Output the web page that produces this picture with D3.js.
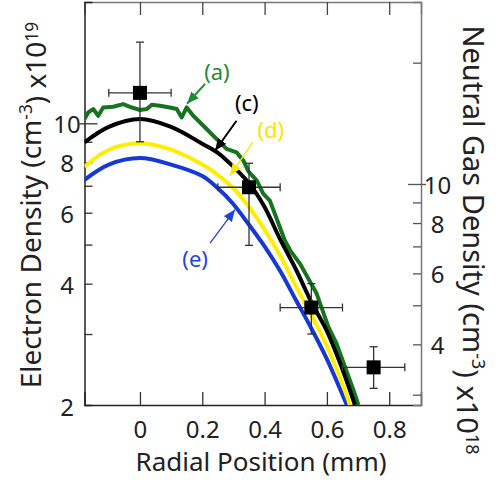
<!DOCTYPE html>
<html>
<head>
<meta charset="utf-8">
<script src="https://cdn.jsdelivr.net/npm/d3@7"></script>
<style>
  body { margin: 0; background: #fff; }
  text { font-family: "Noto Sans", "Open Sans", sans-serif; }
</style>
</head>
<body>
<div id="chart"></div>
<script>
// radial position (mm) samples for the smooth model curves
const curveC_x = [-0.178, -0.1, 0, 0.1, 0.2, 0.25, 0.3, 0.35, 0.4, 0.45, 0.5, 0.55, 0.6, 0.65, 0.69];
const curveC_y = [8.97, 9.8, 10.25, 9.8, 8.9, 8.45, 7.8, 7.1, 6.2, 5.15, 4.35, 3.6, 3.05, 2.45, 2.0];

const curveD_x = [-0.178, -0.1, 0, 0.1, 0.2, 0.25, 0.3, 0.35, 0.4, 0.45, 0.5, 0.55, 0.6, 0.65, 0.674];
const curveD_y = [7.8, 8.6, 8.92, 8.6, 7.9, 7.45, 6.9, 6.2, 5.45, 4.7, 3.95, 3.35, 2.8, 2.25, 2.0];

const curveE_x = [-0.178, -0.1, 0, 0.1, 0.2, 0.25, 0.3, 0.35, 0.4, 0.45, 0.5, 0.55, 0.6, 0.664];
const curveE_y = [7.24, 7.9, 8.2, 7.9, 7.4, 6.9, 6.3, 5.6, 4.95, 4.3, 3.65, 3.1, 2.6, 2.0];

// noisy measured profile (a)
const curveA_x = [-0.178, -0.166, -0.15, -0.134, -0.118, -0.086, -0.054, -0.032, 0, 0.022, 0.038, 0.064, 0.096, 0.118,
  0.134, 0.15, 0.171, 0.193, 0.214, 0.235, 0.257, 0.278, 0.31, 0.332, 0.348, 0.375, 0.396, 0.417, 0.433, 0.449,
  0.465, 0.482, 0.514, 0.567, 0.605, 0.631, 0.685, 0.701];
const curveA_y = [10.25, 10.64, 10.85, 10.44, 10.95, 10.99, 11.16, 10.99, 10.79, 10.85, 11.12, 11.06, 10.95, 10.85,
  10.34, 10.95, 10.44, 10.05, 9.68, 9.32, 8.97, 8.64, 8.47, 8.08, 7.6, 7.21, 6.68, 6.43, 5.96, 5.52,
  5.12, 4.84, 4.48, 3.78, 3.12, 2.84, 2.18, 2.0];

// measured points with error bars
const pts_x = [0, 0.35, 0.55, 0.75];
const pts_y = [11.9, 6.94, 3.49, 2.48];
const pts_xlo = [-0.1, 0.25, 0.45, 0.65];
const pts_xhi = [0.1, 0.45, 0.65, 0.85];
const pts_ylo = [9.0, 4.98, 3.0, 2.2];
const pts_yhi = [15.9, 7.96, 4.0, 2.79];

const xTicks = [0, 0.2, 0.4, 0.6, 0.8];
const leftTicks = [3, 4, 5, 6, 7, 8, 9, 10];
const leftLabels = [2, 4, 6, 8, 10];
const rightTicks = [3, 4, 5, 6, 7, 8, 9, 10, 20];
const rightLabels = [4, 6, 8, 10];

const width = 497, height = 480;
const margin = { top: 2, right: 76, bottom: 75, left: 84.5 };

const svg = d3.select("#chart").append("svg")
    .attr("width", width)
    .attr("height", height);

const x = d3.scaleLinear()
    .domain([-0.178, 0.902])
    .range([margin.left, width - margin.right]);

const y = d3.scaleLog()
    .domain([2, 20])
    .range([height - margin.bottom, margin.top]);

const y2 = d3.scaleLog()
    .domain([2 * Math.SQRT2, 20 * Math.SQRT2])
    .range([height - margin.bottom, margin.top]);

svg.append("clipPath").attr("id", "plotclip")
    .append("rect")
    .attr("x", margin.left).attr("y", margin.top)
    .attr("width", width - margin.right - margin.left)
    .attr("height", height - margin.bottom - margin.top);

// axes
const bottom = height - margin.bottom;
const fontTick = "24px";

svg.append("g")
    .attr("transform", `translate(0,${bottom})`)
    .call(d3.axisBottom(x).tickValues(xTicks).tickSize(-13).tickPadding(16)
        .tickFormat(d => d === 0 ? "0" : d3.format(".1f")(d)))
    .call(g => g.select(".domain").attr("stroke", "#222").attr("stroke-width", 1.5))
    .call(g => g.selectAll(".tick line").attr("stroke", "#333").attr("stroke-width", 1.3))
    .call(g => g.selectAll("text").style("font-size", fontTick).attr("fill", "#222"));

svg.append("g")
    .attr("transform", `translate(0,${margin.top})`)
    .call(d3.axisTop(x).tickValues(xTicks).tickSize(-13).tickFormat(""))
    .call(g => g.select(".domain").attr("stroke", "#777").attr("stroke-width", 1.5))
    .call(g => g.selectAll(".tick line").attr("stroke", "#444").attr("stroke-width", 1.3));

svg.append("g")
    .attr("transform", `translate(${margin.left},0)`)
    .call(d3.axisLeft(y).tickValues(leftTicks).tickSize(-8)
        .tickFormat(d => leftLabels.includes(d) ? d : ""))
    .call(g => g.select(".domain").attr("stroke", "#222").attr("stroke-width", 1.5))
    .call(g => g.selectAll(".tick line").attr("stroke", "#333").attr("stroke-width", 1.3))
    .call(g => g.selectAll(".tick").filter(d => d === 10).select("line").attr("x1", -5).attr("x2", 13))
    .call(g => g.selectAll("text").attr("x", -17.5).attr("dy", "0.4em")
        .attr("text-anchor", "middle").style("font-size", fontTick).attr("fill", "#222"));

// bottom-left label "2"
svg.append("text")
    .attr("x", margin.left - 17.5)
    .attr("y", y(2))
    .attr("dy", "0.45em")
    .attr("text-anchor", "middle")
    .style("font-size", fontTick)
    .attr("fill", "#222")
    .text(leftLabels[0]);

svg.append("g")
    .attr("transform", `translate(${width - margin.right},0)`)
    .call(d3.axisRight(y2).tickValues(rightTicks).tickSize(-8)
        .tickFormat(d => rightLabels.includes(d) ? d : ""))
    .call(g => g.select(".domain").attr("stroke", "#777").attr("stroke-width", 1.5))
    .call(g => g.selectAll(".tick line").attr("stroke", "#555").attr("stroke-width", 1.3))
    .call(g => g.selectAll(".tick").filter(d => d === 10).select("line").attr("x1", 5).attr("x2", -13))
    .call(g => g.selectAll("text").attr("x", 16.5).attr("dy", "0.4em")
        .attr("text-anchor", "middle").style("font-size", fontTick).attr("fill", "#222"));

// curves
const plot = svg.append("g").attr("clip-path", "url(#plotclip)");

const smooth = d3.line()
    .x(d => x(d[0]))
    .y(d => y(d[1]))
    .curve(d3.curveCatmullRom);

const jagged = d3.line()
    .x(d => x(d[0]))
    .y(d => y(d[1]));

const series = [
    { xs: curveA_x, ys: curveA_y, color: "#16741f", gen: jagged },
    { xs: curveE_x, ys: curveE_y, color: "#1538d6", gen: smooth },
    { xs: curveD_x, ys: curveD_y, color: "#ffee00", gen: smooth },
    { xs: curveC_x, ys: curveC_y, color: "#000000", gen: smooth }
];

series.forEach(s => {
    plot.append("path")
        .datum(d3.zip(s.xs, s.ys))
        .attr("fill", "none")
        .attr("stroke", s.color)
        .attr("stroke-width", 4)
        .attr("stroke-linejoin", "round")
        .attr("d", s.gen);
});

// error bars + square markers
const pts = pts_x.map((v, i) => ({ x: v, y: pts_y[i], xlo: pts_xlo[i], xhi: pts_xhi[i], ylo: pts_ylo[i], yhi: pts_yhi[i] }));
const eb = svg.append("g").attr("stroke", "#333").attr("stroke-width", 1.3);
const cap = 4;

pts.forEach(d => {
    eb.append("line").attr("x1", x(d.xlo)).attr("x2", x(d.xhi)).attr("y1", y(d.y)).attr("y2", y(d.y));
    eb.append("line").attr("x1", x(d.x)).attr("x2", x(d.x)).attr("y1", y(d.ylo)).attr("y2", y(d.yhi));
    eb.append("line").attr("x1", x(d.xlo)).attr("x2", x(d.xlo)).attr("y1", y(d.y) - cap).attr("y2", y(d.y) + cap);
    eb.append("line").attr("x1", x(d.xhi)).attr("x2", x(d.xhi)).attr("y1", y(d.y) - cap).attr("y2", y(d.y) + cap);
    eb.append("line").attr("x1", x(d.x) - cap).attr("x2", x(d.x) + cap).attr("y1", y(d.ylo)).attr("y2", y(d.ylo));
    eb.append("line").attr("x1", x(d.x) - cap).attr("x2", x(d.x) + cap).attr("y1", y(d.yhi)).attr("y2", y(d.yhi));
});

svg.selectAll(".pt")
    .data(pts)
    .enter().append("rect")
    .attr("class", "pt")
    .attr("x", d => x(d.x) - 7)
    .attr("y", d => y(d.y) - 7)
    .attr("width", 14)
    .attr("height", 14)
    .attr("fill", "#000");

// annotations (label position, arrow start, arrow tip) in data units
const notes = [
    { t: "(a)", color: "#1e8a35", lx: 0.247, ly: 13.35, ax: 0.209, ay: 12.53, bx: 0.151, by: 11.18, w: 2 },
    { t: "(c)", color: "#000000", lx: 0.343, ly: 11.18, ax: 0.31, ay: 10.15, bx: 0.241, by: 8.55, w: 2 },
    { t: "(d)", color: "#f7e600", lx: 0.42, ly: 9.59, ax: 0.362, ay: 8.97, bx: 0.289, by: 7.42, w: 1.3 },
    { t: "(e)", color: "#1f45e0", lx: 0.177, ly: 4.6, ax: 0.225, ay: 5.04, bx: 0.305, by: 6.11, w: 1.3 }
];

const defs = svg.append("defs");
notes.forEach((n, i) => {
    defs.append("marker")
        .attr("id", "arr" + i)
        .attr("viewBox", "0 0 12 10")
        .attr("refX", 12).attr("refY", 5)
        .attr("markerWidth", 12).attr("markerHeight", 10)
        .attr("markerUnits", "userSpaceOnUse")
        .attr("orient", "auto")
        .append("path")
        .attr("d", "M0,0 L12,5 L0,10 Z")
        .attr("fill", n.color);

    svg.append("line")
        .attr("x1", x(n.ax)).attr("y1", y(n.ay))
        .attr("x2", x(n.bx)).attr("y2", y(n.by))
        .attr("stroke", n.color)
        .attr("stroke-width", n.w)
        .attr("marker-end", `url(#arr${i})`);

    svg.append("text")
        .attr("x", x(n.lx))
        .attr("y", y(n.ly))
        .attr("dy", "0.35em")
        .attr("text-anchor", "middle")
        .style("font-size", "22px")
        .attr("fill", n.color)
        .text(n.t);
});

// axis titles
svg.append("text")
    .attr("x", 261)
    .attr("y", 471)
    .attr("text-anchor", "middle")
    .style("font-size", "26px")
    .attr("fill", "#222")
    .text("Radial Position (mm)");

function title(tx, ty, rot, size, main, sup1, mid, sup2) {
    const t = svg.append("text")
        .attr("transform", `translate(${tx},${ty}) rotate(${rot})`)
        .attr("text-anchor", "middle")
        .style("font-size", size + "px")
        .attr("fill", "#222");
    t.append("tspan").text(main);
    t.append("tspan").attr("dy", "-0.5em").style("font-size", (size * 0.62) + "px").text(sup1);
    t.append("tspan").attr("dy", "0.5em").text(mid);
    t.append("tspan").attr("dy", "-0.5em").style("font-size", (size * 0.62) + "px").text(sup2);
}

title(41, 205, -90, 28, "Electron Density (cm", "-3", ") x10", "19");
title(463, 240, 90, 29, "Neutral Gas Density (cm", "-3", ") x10", "18");
</script>
</body>
</html>
